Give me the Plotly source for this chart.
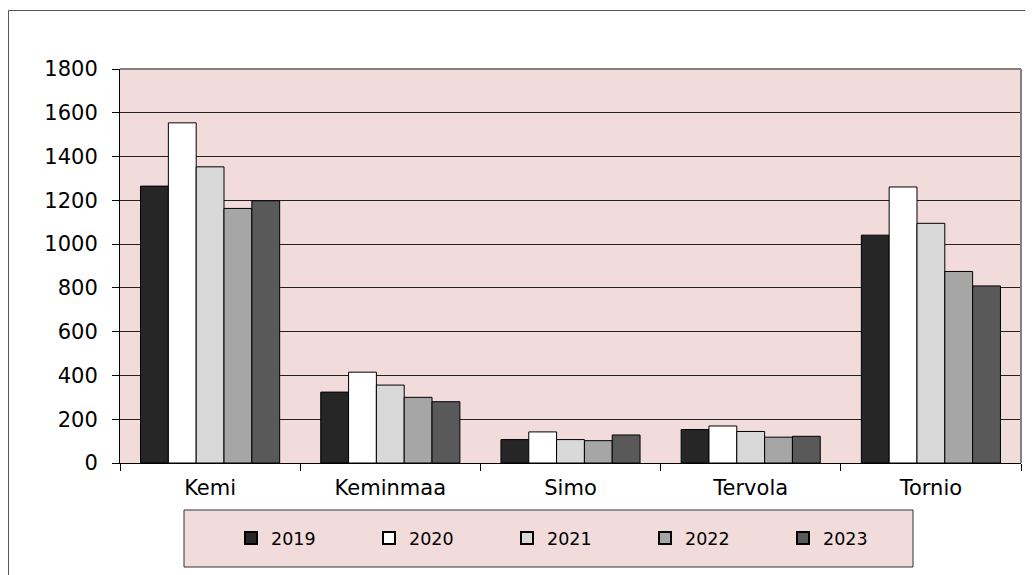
import plotly.graph_objects as go

categories = ["Kemi", "Keminmaa", "Simo", "Tervola", "Tornio"]
years = ["2019", "2020", "2021", "2022", "2023"]
v2019 = [1265, 324, 107, 153, 1041]
v2020 = [1554, 415, 142, 169, 1261]
v2021 = [1353, 356, 107, 144, 1095]
v2022 = [1163, 300, 102, 118, 875]
v2023 = [1198, 280, 128, 122, 809]
series = [v2019, v2020, v2021, v2022, v2023]
colors = ["#262626", "#ffffff", "#d9d9d9", "#a6a6a6", "#595959"]

# the page places the figure 8px from the top-left corner
OFF = 8
W, H = 1033 - OFF, 575 - OFF
L, T = 120 - OFF, 69 - OFF
R = W - (1021 - OFF)
B = H - (463 - OFF)
pw, ph = W - L - R, H - T - B

def px_x(p):  # p in reference-screen pixels
    return (p - OFF - L) / pw

def px_y(p):
    return (H - B - (p - OFF)) / ph

fig = go.Figure()
for name, vals, col in zip(years, series, colors):
    fig.add_trace(go.Bar(
        x=categories, y=vals, name=name,
        marker=dict(color=col, line=dict(color="#000000", width=1)),
    ))

font = "DejaVu Sans"
fig.update_layout(
    width=W, height=H, autosize=False,
    margin=dict(l=L, r=R, t=T, b=B, autoexpand=False),
    paper_bgcolor="#ffffff",
    plot_bgcolor="#f2dcdb",
    barmode="group", bargap=0.228, bargroupgap=0,
    font=dict(family=font, size=21, color="#000000"),
    showlegend=True,
    legend=dict(
        orientation="h", x=px_x(231), xanchor="left",
        y=px_y(538), yanchor="middle",
        entrywidth=93, entrywidthmode="pixels",
        bgcolor="rgba(0,0,0,0)", borderwidth=0,
        font=dict(family=font, size=17.5, color="#000000"),
        itemsizing="constant", tracegroupgap=0,
    ),
    xaxis=dict(
        showgrid=False, showline=True, linecolor="#000000", linewidth=1,
        ticks="outside", ticklen=7, tickcolor="#000000", tickson="boundaries",
        ticklabelstandoff=6,
        tickfont=dict(family=font, size=21, color="#000000"),
    ),
    yaxis=dict(
        range=[0, 1800], dtick=200, tick0=0,
        showgrid=True, gridcolor="#222222", gridwidth=1,
        showline=True, linecolor="#000000", linewidth=1,
        ticks="outside", ticklen=7, tickcolor="#000000",
        ticklabelstandoff=10, zeroline=False,
        tickfont=dict(family=font, size=21, color="#000000"),
    ),
    shapes=[
        dict(type="rect", xref="paper", yref="paper",
             x0=px_x(8.5), x1=px_x(1045), y0=px_y(590), y1=px_y(10.5),
             line=dict(color="#555555", width=1), fillcolor="rgba(0,0,0,0)", layer="below"),
        dict(type="line", xref="paper", yref="paper", x0=0, x1=1, y0=1, y1=1,
             line=dict(color="#808080", width=2), layer="above"),
        dict(type="line", xref="paper", yref="paper", x0=1, x1=1, y0=0, y1=1,
             line=dict(color="#808080", width=2), layer="above"),
        dict(type="rect", xref="paper", yref="paper",
             x0=px_x(184), x1=px_x(913), y0=px_y(567), y1=px_y(510),
             line=dict(color="#333333", width=1), fillcolor="#f2dcdb", layer="below"),
    ],
)

fig.write_html("out.html")
